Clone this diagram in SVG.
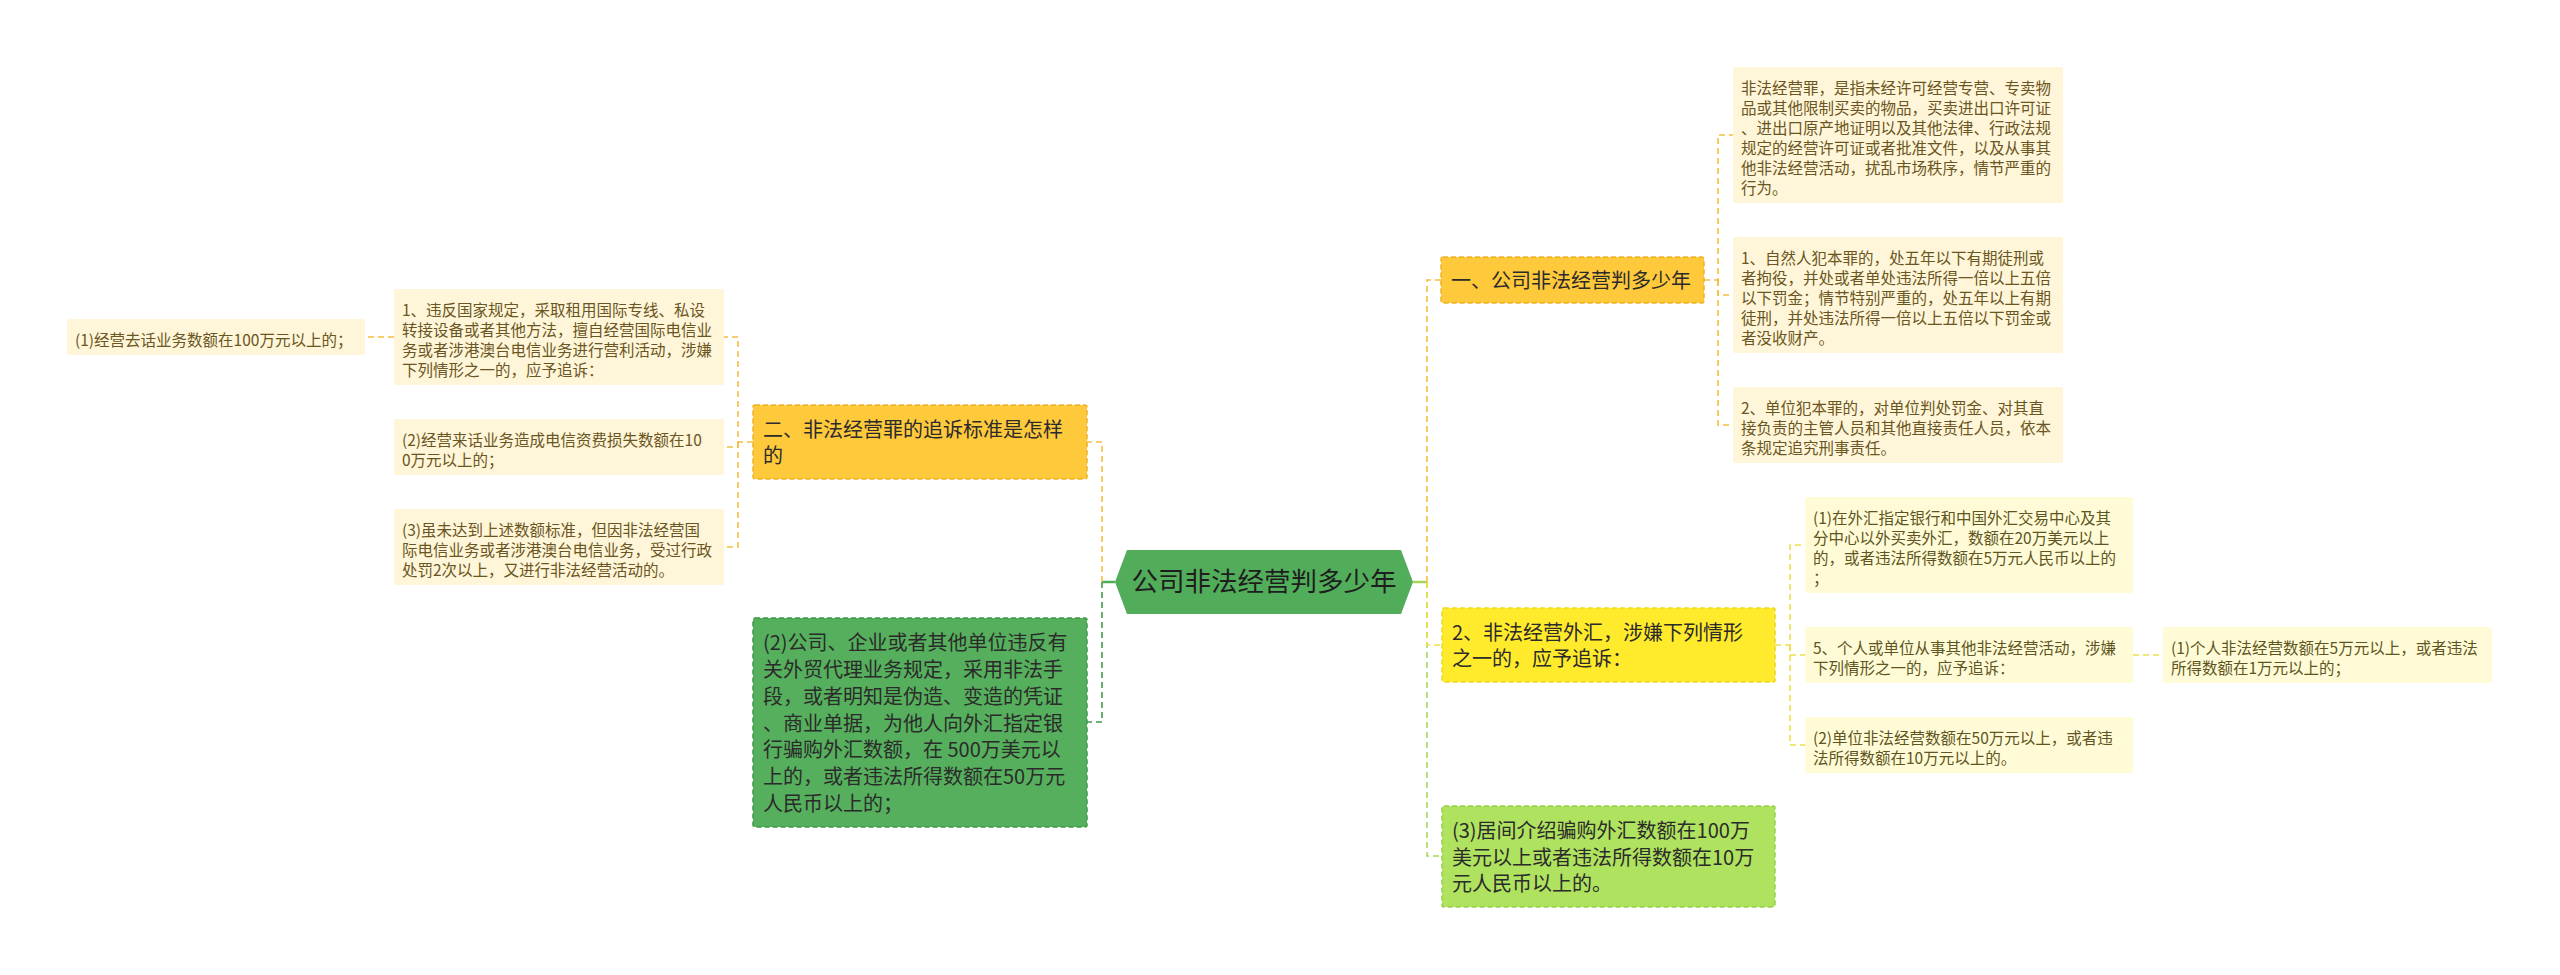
<svg xmlns="http://www.w3.org/2000/svg" width="2560" height="975" viewBox="0 0 2560 975">
<defs>
<style>
text{font-family:"Noto Sans CJK SC","Microsoft YaHei",sans-serif;}
.c{font-size:15.5px;}
.co{fill:#6a5622;}
.cy{fill:#5e5522;}
.b{font-size:20px;fill:#2b2b2b;}
.boxco{fill:#fff5d8;}
.boxcy{fill:#fffbd6;}
.orange{fill:#ffc93c;stroke:#efb323;stroke-width:1.5;stroke-dasharray:5 3;}
.yellow{fill:#ffea2c;stroke:#ecd71d;stroke-width:1.5;stroke-dasharray:5 3;}
.lgreen{fill:#afe25e;stroke:#98cf47;stroke-width:1.5;stroke-dasharray:5 3;}
.dgreen{fill:#55af5c;stroke:#3d9a47;stroke-width:1.5;stroke-dasharray:5 3;}
.ln{fill:none;stroke-width:1.6;stroke-dasharray:6 4;}
.lo{stroke:#f5bf3e;}
.ly{stroke:#ece04a;}
.llg{stroke:#a8d95a;}
.ldg{stroke:#3e9b48;}
</style>
</defs>
<rect width="2560" height="975" fill="#ffffff"/>

<g id="connectors">
<path d="M1413,582 H1427" fill="none" stroke="#a5d65a" stroke-width="2.5"/>
<path d="M1115,582 H1102" fill="none" stroke="#4cad52" stroke-width="2.5"/>
<path class="ln llg" d="M1427,582 V856 H1442"/>
<path class="ln ly" d="M1427,582 V645 H1442"/>
<path class="ln lo" d="M1427,582 V280 H1441"/>
<path class="ln lo" d="M1704,280 H1718 V135 H1733"/>
<path class="ln lo" d="M1718,280 V295 H1733"/>
<path class="ln lo" d="M1718,280 V425 H1733"/>
<path class="ln ly" d="M1775,645 H1790 V545 H1805"/>
<path class="ln ly" d="M1790,645 V655 H1805"/>
<path class="ln ly" d="M1790,645 V745 H1805"/>
<path class="ln ly" d="M2133,655 H2163"/>
<path class="ln ldg" d="M1102,582 V722 H1087"/>
<path class="ln lo" d="M1102,582 V442 H1087"/>
<path class="ln lo" d="M753,442 H738 V337 H724"/>
<path class="ln lo" d="M738,442 V447 H724"/>
<path class="ln lo" d="M738,442 V547 H724"/>
<path class="ln lo" d="M394,337 H365"/>
</g>

<g id="root">
<polygon points="1115,582 1127,550 1401,550 1413,582 1401,614 1127,614" fill="#52ad5a"/>
<text x="1264" y="591" font-size="26.5" fill="#1e1e1e" text-anchor="middle">公司非法经营判多少年</text>
</g>

<g id="b1">
<rect class="orange" x="1441" y="257" width="263" height="46" rx="2"/>
<text class="b" x="1451" y="288">一、公司非法经营判多少年</text>
</g>

<g id="b1-def">
<rect class="boxco" x="1733" y="67" width="330" height="136" rx="2"/>
<text class="c co" x="1741"><tspan x="1741" y="93.5">非法经营罪，是指未经许可经营专营、专卖物</tspan><tspan x="1741" y="113.5">品或其他限制买卖的物品，买卖进出口许可证</tspan><tspan x="1741" y="133.5">、进出口原产地证明以及其他法律、行政法规</tspan><tspan x="1741" y="153.5">规定的经营许可证或者批准文件，以及从事其</tspan><tspan x="1741" y="173.5">他非法经营活动，扰乱市场秩序，情节严重的</tspan><tspan x="1741" y="193.5">行为。</tspan></text>
</g>

<g id="b1-natural">
<rect class="boxco" x="1733" y="237" width="330" height="116" rx="2"/>
<text class="c co"><tspan x="1741" y="263.5">1、自然人犯本罪的，处五年以下有期徒刑或</tspan><tspan x="1741" y="283.5">者拘役，并处或者单处违法所得一倍以上五倍</tspan><tspan x="1741" y="303.5">以下罚金；情节特别严重的，处五年以上有期</tspan><tspan x="1741" y="323.5">徒刑，并处违法所得一倍以上五倍以下罚金或</tspan><tspan x="1741" y="343.5">者没收财产。</tspan></text>
</g>

<g id="b1-unit">
<rect class="boxco" x="1733" y="387" width="330" height="76" rx="2"/>
<text class="c co"><tspan x="1741" y="413.5">2、单位犯本罪的，对单位判处罚金、对其直</tspan><tspan x="1741" y="433.5">接负责的主管人员和其他直接责任人员，依本</tspan><tspan x="1741" y="453.5">条规定追究刑事责任。</tspan></text>
</g>

<g id="b2">
<rect class="yellow" x="1442" y="608" width="333" height="74" rx="2"/>
<text class="b"><tspan x="1452" y="639.6">2、非法经营外汇，涉嫌下列情形</tspan><tspan x="1452" y="666.4">之一的，应予追诉：</tspan></text>
</g>

<g id="b2-1">
<rect class="boxcy" x="1805" y="497" width="328" height="96" rx="2"/>
<text class="c cy"><tspan x="1813" y="523.5">(1)在外汇指定银行和中国外汇交易中心及其</tspan><tspan x="1813" y="543.5">分中心以外买卖外汇，数额在20万美元以上</tspan><tspan x="1813" y="563.5">的，或者违法所得数额在5万元人民币以上的</tspan><tspan x="1813" y="583.5">；</tspan></text>
</g>

<g id="b2-5">
<rect class="boxcy" x="1805" y="627" width="328" height="56" rx="2"/>
<text class="c cy"><tspan x="1813" y="653.5">5、个人或单位从事其他非法经营活动，涉嫌</tspan><tspan x="1813" y="673.5">下列情形之一的，应予追诉：</tspan></text>
</g>

<g id="b2-5-1">
<rect class="boxcy" x="2163" y="627" width="329" height="56" rx="2"/>
<text class="c cy"><tspan x="2171" y="653.5">(1)个人非法经营数额在5万元以上，或者违法</tspan><tspan x="2171" y="673.5">所得数额在1万元以上的；</tspan></text>
</g>

<g id="b2-2">
<rect class="boxcy" x="1805" y="717" width="328" height="56" rx="2"/>
<text class="c cy"><tspan x="1813" y="743.5">(2)单位非法经营数额在50万元以上，或者违</tspan><tspan x="1813" y="763.5">法所得数额在10万元以上的。</tspan></text>
</g>

<g id="b3">
<rect class="lgreen" x="1442" y="806" width="333" height="101" rx="2"/>
<text class="b"><tspan x="1452" y="837.8">(3)居间介绍骗购外汇数额在100万</tspan><tspan x="1452" y="864.5">美元以上或者违法所得数额在10万</tspan><tspan x="1452" y="891.2">元人民币以上的。</tspan></text>
</g>

<g id="b4">
<rect class="orange" x="753" y="405" width="334" height="74" rx="2"/>
<text class="b"><tspan x="763" y="436.6">二、非法经营罪的追诉标准是怎样</tspan><tspan x="763" y="463.4">的</tspan></text>
</g>

<g id="b4-1">
<rect class="boxco" x="394" y="289" width="330" height="96" rx="2"/>
<text class="c co"><tspan x="402" y="315.5">1、违反国家规定，采取租用国际专线、私设</tspan><tspan x="402" y="335.5">转接设备或者其他方法，擅自经营国际电信业</tspan><tspan x="402" y="355.5">务或者涉港澳台电信业务进行营利活动，涉嫌</tspan><tspan x="402" y="375.5">下列情形之一的，应予追诉：</tspan></text>
</g>

<g id="b4-1-1">
<rect class="boxco" x="67" y="319" width="298" height="36" rx="2"/>
<text class="c co" x="75" y="345.5">(1)经营去话业务数额在100万元以上的；</text>
</g>

<g id="b4-2">
<rect class="boxco" x="394" y="419" width="330" height="56" rx="2"/>
<text class="c co"><tspan x="402" y="445.5">(2)经营来话业务造成电信资费损失数额在10</tspan><tspan x="402" y="465.5">0万元以上的；</tspan></text>
</g>

<g id="b4-3">
<rect class="boxco" x="394" y="509" width="330" height="76" rx="2"/>
<text class="c co"><tspan x="402" y="535.5">(3)虽未达到上述数额标准，但因非法经营国</tspan><tspan x="402" y="555.5">际电信业务或者涉港澳台电信业务，受过行政</tspan><tspan x="402" y="575.5">处罚2次以上，又进行非法经营活动的。</tspan></text>
</g>

<g id="b5">
<rect class="dgreen" x="753" y="618" width="334" height="209" rx="2"/>
<text class="b"><tspan x="763" y="650.4">(2)公司、企业或者其他单位违反有</tspan><tspan x="763" y="677.1">关外贸代理业务规定，采用非法手</tspan><tspan x="763" y="703.8">段，或者明知是伪造、变造的凭证</tspan><tspan x="763" y="730.5">、商业单据，为他人向外汇指定银</tspan><tspan x="763" y="757.2">行骗购外汇数额，在 500万美元以</tspan><tspan x="763" y="783.9">上的，或者违法所得数额在50万元</tspan><tspan x="763" y="810.6">人民币以上的；</tspan></text>
</g>
</svg>
